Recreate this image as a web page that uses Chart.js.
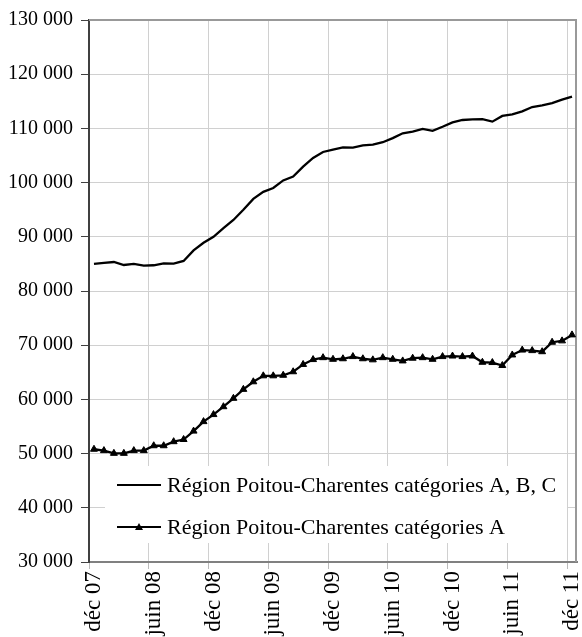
<!DOCTYPE html>
<html>
<head>
<meta charset="utf-8">
<script src="https://cdn.jsdelivr.net/npm/chart.js@4"></script>
<style>
  html, body { margin: 0; padding: 0; background: #fff; }
  #wrap { width: 582px; height: 637px; }
</style>
</head>
<body>
<div id="wrap"><canvas id="chart" width="582" height="637"></canvas></div>
<script>
// Mois de décembre 2007 à décembre 2011
const moisCourts = ["janv", "févr", "mars", "avr", "mai", "juin", "juil", "août", "sept", "oct", "nov", "déc"];
const annees = ["08", "09", "10", "11"];

const categories = ["déc 07"];
annees.forEach(a => moisCourts.forEach(m => categories.push(m + " " + a)));

// Demandeurs d'emploi, catégories A, B, C
const serieABC = [
    85000, 85200, 85350, 84800, 85000, 84700, 84750, 85100, 85050, 85550,
    87500, 88900, 90000, 91600, 93100, 95000, 97000, 98300, 99000, 100400,
    101100, 102950, 104550, 105650, 106100, 106500, 106450, 106850, 107000, 107450,
    108200, 109100, 109400, 109900, 109550, 110300, 111100, 111550, 111650, 111700,
    111250, 112300, 112600, 113150, 113950, 114250, 114650, 115300, 115850
];

// Demandeurs d'emploi, catégorie A
const serieA = [
    50800, 50550, 50050, 50050, 50550, 50550, 51450, 51450, 52200, 52600,
    54150, 55900, 57200, 58650, 60200, 61850, 63250, 64350, 64350, 64450,
    65100, 66450, 67350, 67700, 67400, 67500, 67900, 67500, 67300, 67700,
    67400, 67100, 67600, 67700, 67400, 67900, 68000, 67900, 68000, 66850,
    66800, 66250, 68200, 69100, 69000, 68800, 70550, 70800, 71900
];

const nomsSeries = [
    "Région Poitou-Charentes catégories A, B, C",
    "Région Poitou-Charentes catégories A"
];

// Tick labels: one every 6 months
const pasEtiquettes = 6;
const yMin = 30000;
const yMax = 130000;
const yPas = 10000;

function formatNombre(v) {
    return String(v).replace(/\B(?=(\d{3})+(?!\d))/g, " ");
}

const police = "'Liberation Serif', 'Times New Roman', serif";

// Cadre haut/droite + légende dans la zone de tracé
const cadreEtLegende = {
    id: "cadreEtLegende",
    beforeDatasetsDraw(chart) {
        const { ctx, chartArea: a } = chart;
        ctx.save();
        ctx.strokeStyle = "#999999";
        ctx.lineWidth = 2;
        ctx.beginPath();
        ctx.moveTo(a.left, a.top);
        ctx.lineTo(a.right - 1, a.top);
        ctx.lineTo(a.right - 1, a.bottom);
        ctx.stroke();
        ctx.restore();
    },
    afterDraw(chart) {
        const { ctx, chartArea: a } = chart;
        const x0 = a.left + 16;
        const y0 = a.bottom - 96;
        ctx.save();
        ctx.fillStyle = "#ffffff";
        ctx.fillRect(x0, y0, 462, 77);

        const rangs = [y0 + 19, y0 + 61];
        chart.data.datasets.forEach((ds, i) => {
            const y = rangs[i];
            ctx.strokeStyle = "#000";
            ctx.lineWidth = 2;
            ctx.beginPath();
            ctx.moveTo(x0 + 12, y);
            ctx.lineTo(x0 + 56, y);
            ctx.stroke();
            if (ds.pointRadius > 0) {
                const cx = x0 + 34;
                ctx.fillStyle = "#000";
                ctx.beginPath();
                ctx.moveTo(cx, y - 4);
                ctx.lineTo(cx + 4, y + 3);
                ctx.lineTo(cx - 4, y + 3);
                ctx.closePath();
                ctx.fill();
            }
            ctx.fillStyle = "#000";
            ctx.font = "22px " + police;
            ctx.textBaseline = "middle";
            ctx.textAlign = "left";
            ctx.fillText(ds.label, x0 + 62, y + 1);
        });
        ctx.restore();
    }
};

const ctx = document.getElementById("chart").getContext("2d");

const chart = new Chart(ctx, {

    type: "line",

    data: {
        labels: categories,
        datasets: [
            {
                label: nomsSeries[0],
                data: serieABC,
                borderColor: "#000",
                borderWidth: 2.3,
                pointRadius: 0,
                tension: 0
            },
            {
                label: nomsSeries[1],
                data: serieA,
                borderColor: "#000",
                backgroundColor: "#000",
                borderWidth: 2.3,
                pointStyle: "triangle",
                pointRadius: 4,
                pointBorderWidth: 1,
                tension: 0
            }
        ]
    },

    options: {
        responsive: false,
        animation: false,
        layout: {
            padding: { top: 20, right: 2, left: 0, bottom: 0 }
        },
        plugins: {
            legend: { display: false },
            tooltip: { enabled: false }
        },
        scales: {
            x: {
                type: "category",
                offset: true,
                grid: {
                    offset: true,
                    drawOnChartArea: true,
                    color: c => (c.index % pasEtiquettes === 0 ? "#d0d0d0" : "rgba(0,0,0,0)"),
                    tickColor: c => (c.index % pasEtiquettes === 0 ? "#bbbbbb" : "rgba(0,0,0,0)"),
                    tickLength: 7,
                    lineWidth: 1
                },
                border: { color: "#808080", width: 2 },
                ticks: {
                    autoSkip: false,
                    minRotation: 90,
                    maxRotation: 90,
                    padding: 2,
                    color: "#000",
                    font: { family: police, size: 23 },
                    callback: (v, i) => (i % pasEtiquettes === 0 ? categories[i] : "")
                },
                afterFit: s => {
                    s.height = 75;
                    s.paddingLeft = 0;
                    s.paddingRight = 0;
                }
            },
            y: {
                min: yMin,
                max: yMax,
                grid: {
                    color: "#d0d0d0",
                    tickColor: "#404040",
                    tickLength: 8,
                    lineWidth: 1
                },
                border: { color: "#404040", width: 2 },
                ticks: {
                    stepSize: yPas,
                    padding: 8,
                    color: "#000",
                    font: { family: police, size: 20 },
                    callback: v => formatNombre(v)
                },
                afterFit: s => { s.width = 89; }
            }
        }
    },

    plugins: [cadreEtLegende]
});
</script>
</body>
</html>
